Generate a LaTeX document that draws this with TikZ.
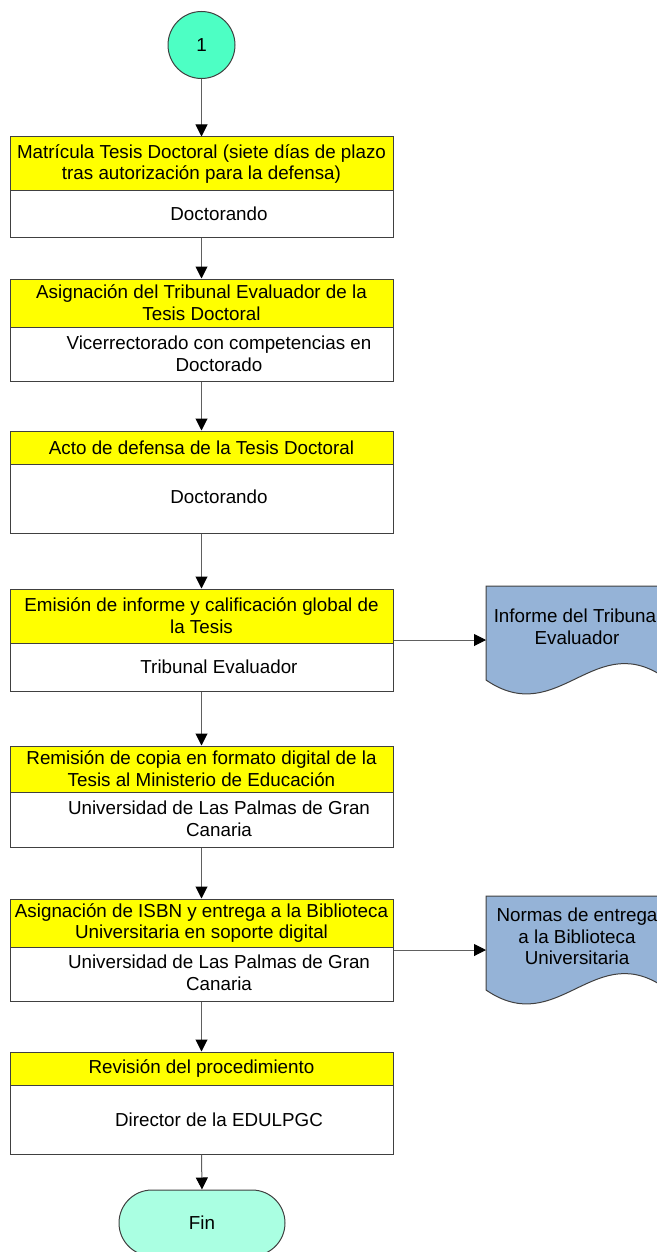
\documentclass[tikz,border=0pt]{standalone}
\usepackage{fontspec}
\setmainfont{Liberation Sans}
\usetikzlibrary{arrows.meta}
\definecolor{stepyellow}{RGB}{255,255,0}
\definecolor{docblue}{RGB}{149,179,215}
\definecolor{startgreen}{RGB}{77,255,196}
\definecolor{endgreen}{RGB}{170,255,226}
\definecolor{bordergray}{RGB}{64,64,64}
\definecolor{linegray}{RGB}{96,96,96}
\tikzset{
  stepy/.style={draw=bordergray, line width=1pt, fill=stepyellow, minimum width=383pt, inner sep=0pt, align=center},
  stepw/.style={draw=bordergray, line width=1pt, fill=white, minimum width=383pt, inner sep=0pt},
  txt/.style={inner sep=0pt, align=center},
  arr/.style={draw=linegray, line width=1pt, -{Triangle[length=12pt,width=12pt,color=black,fill=black]}},
  docshape/.style={draw=bordergray, line width=1pt, fill=docblue},
  startc/.style={circle, draw=bordergray, line width=1pt, fill=startgreen, minimum size=67pt, inner sep=0pt},
  endt/.style={draw=bordergray, line width=1pt, fill=endgreen, rounded corners=33pt, minimum width=166pt, minimum height=66pt, inner sep=0pt}
}
\begin{document}
\begin{tikzpicture}[x=1pt,y=-1pt,font=\fontsize{18.8}{21.7}\selectfont]
\useasboundingbox (0,0) rectangle (656,1252);

% start
\node[startc] (c1) at (201.5,45) {1};

% step 1
\node[stepy, minimum height=54pt] (s1y) at (201.5,164) {Matrícula Tesis Doctoral (siete días de plazo\\tras autorización para la defensa)};
\node[stepw, minimum height=46pt] (s1w) at (201.5,214) {};
\node[txt] (s1t) at (219,214) {Doctorando};

% step 2
\node[stepy, minimum height=48pt] (s2y) at (201.5,303) {Asignación del Tribunal Evaluador de la\\Tesis Doctoral};
\node[stepw, minimum height=54pt] (s2w) at (201.5,354) {};
\node[txt] (s2t) at (219,354) {Vicerrectorado con competencias en\\Doctorado};

% step 3
\node[stepy, minimum height=33pt] (s3y) at (201.5,447.5) {Acto de defensa de la Tesis Doctoral};
\node[stepw, minimum height=69pt] (s3w) at (201.5,498.5) {};
\node[txt] (s3t) at (219,497) {Doctorando};

% step 4
\node[stepy, minimum height=54pt] (s4y) at (201.5,616) {Emisión de informe y calificación global de\\la Tesis};
\node[stepw, minimum height=48pt] (s4w) at (201.5,667) {};
\node[txt] (s4t) at (219,667) {Tribunal Evaluador};

% step 5
\node[stepy, minimum height=46pt] (s5y) at (201.5,769) {Remisión de copia en formato digital de la\\Tesis al Ministerio de Educación};
\node[stepw, minimum height=55pt] (s5w) at (201.5,819.5) {};
\node[txt] (s5t) at (219,819) {Universidad de Las Palmas de Gran\\Canaria};

% step 6
\node[stepy, minimum height=48pt] (s6y) at (201.5,923) {Asignación de ISBN y entrega a la Biblioteca\\Universitaria en soporte digital};
\node[stepw, minimum height=54pt] (s6w) at (201.5,974) {};
\node[txt] (s6t) at (219,972.5) {Universidad de Las Palmas de Gran\\Canaria};

% step 7
\node[stepy, minimum height=33pt] (s7y) at (201.5,1068.5) {Revisión del procedimiento};
\node[stepw, minimum height=69pt] (s7w) at (201.5,1119.5) {};
\node[txt] (s7t) at (219,1120) {Director de la EDULPGC};

% end
\node[endt] (fin) at (202,1223) {Fin};

% documents
\draw[docshape] (486,586) -- (668,586) -- (668,680) .. controls (595,625) and (559,730) .. (486,680) -- cycle;
\node[txt] (d1) at (577,626.5) {Informe del Tribunal\\Evaluador};
\draw[docshape] (486,896) -- (668,896) -- (668,990) .. controls (595,935) and (559,1040) .. (486,990) -- cycle;
\node[txt] (d2) at (577,936.5) {Normas de entrega\\a la Biblioteca\\Universitaria};
\coordinate (a1) at (486,640);
\coordinate (a2) at (486,950);

% connectors
\draw[arr] (c1.south) -- (s1y.north);
\draw[arr] (s1w.south) -- (s2y.north);
\draw[arr] (s2w.south) -- (s3y.north);
\draw[arr] (s3w.south) -- (s4y.north);
\draw[arr] (s4w.south) -- (s5y.north);
\draw[arr] (s5w.south) -- (s6y.north);
\draw[arr] (s6w.south) -- (s7y.north);
\draw[arr] (s7w.south) -- (fin.north);
\draw[arr] (s4y.east |- a1) -- (a1);
\draw[arr] (s6y.east |- a2) -- (a2);
\end{tikzpicture}
\end{document}
